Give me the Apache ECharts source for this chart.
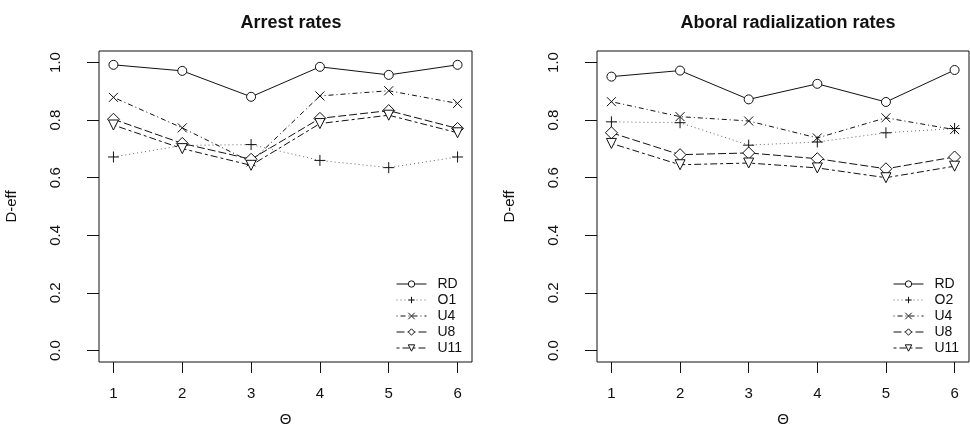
<!DOCTYPE html>
<html>
<head>
<meta charset="utf-8">
<script src="https://cdn.jsdelivr.net/npm/echarts@6/dist/echarts.min.js"></script>
<style>
    html, body { margin: 0; padding: 0; background: #fff; }
    #chart { width: 970px; height: 428px; }
</style>
</head>
<body>
<div id="chart"></div>
<script>
/**
 * D-eff 对比图 (两幅)
 */
var thetas = [1, 2, 3, 4, 5, 6];
var yTicks = [0, 0.2, 0.4, 0.6, 0.8, 1.0];

// Arrest rates
var arrestRD = [0.992, 0.971, 0.881, 0.985, 0.957, 0.992];
var arrestO1 = [0.672, 0.712, 0.715, 0.660, 0.635, 0.672];
var arrestU4 = [0.879, 0.773, 0.655, 0.884, 0.902, 0.858];
var arrestU8 = [0.803, 0.719, 0.664, 0.806, 0.833, 0.771];
var arrestU11 = [0.783, 0.701, 0.643, 0.788, 0.817, 0.756];

// Aboral radialization rates
var aboralRD = [0.951, 0.972, 0.872, 0.926, 0.863, 0.974];
var aboralO2 = [0.794, 0.791, 0.713, 0.724, 0.756, 0.771];
var aboralU4 = [0.864, 0.812, 0.797, 0.738, 0.808, 0.767];
var aboralU8 = [0.756, 0.680, 0.686, 0.666, 0.631, 0.672];
var aboralU11 = [0.719, 0.645, 0.651, 0.634, 0.600, 0.640];

var FONT = '"Liberation Sans", Arial, sans-serif';
var INK = '#111';

var SYM = {
    circle: { symbol: 'circle', size: 9, fill: '#fff' },
    plus: { symbol: 'path://M5,0L5,10M0,5L10,5', size: 11, fill: 'none' },
    cross: { symbol: 'path://M0,0L10,10M10,0L0,10', size: 9, fill: 'none' },
    diamond: { symbol: 'diamond', size: 12, fill: '#fff' },
    down: { symbol: 'path://M0,0L10,0L5,8.7Z', size: 10, fill: '#fff' }
};

var DASH = {
    solid: 'solid',
    dotted: [1, 3],
    dotdash: [1, 3, 5, 3],
    longdash: [8, 3],
    twodash: [3, 3, 7, 3]
};

function pairs(values) {
    return thetas.map(function (t, i) {
        return [t, values[i]];
    });
}

function line(name, values, sym, dash, idx, color) {
    var s = SYM[sym];
    return {
        name: name,
        type: 'line',
        xAxisIndex: idx,
        yAxisIndex: idx,
        data: pairs(values),
        symbol: s.symbol,
        symbolSize: s.size,
        showSymbol: true,
        animation: false,
        lineStyle: { color: color || INK, width: 1, type: DASH[dash] },
        itemStyle: { color: s.fill, borderColor: INK, borderWidth: 1 },
        emphasis: { disabled: true },
        z: 3
    };
}

function xAxis(idx) {
    return {
        type: 'value',
        gridIndex: idx,
        position: 'bottom',
        min: 0.79,
        max: 6.21,
        name: 'Θ',
        nameLocation: 'middle',
        nameGap: 50,
        nameTextStyle: { fontFamily: FONT, fontSize: 15, color: INK },
        axisLine: { show: false, onZero: false },
        splitLine: { show: false },
        axisTick: {
            show: true, inside: false, length: 11,
            customValues: thetas,
            lineStyle: { color: INK, width: 1 }
        },
        axisLabel: {
            customValues: thetas,
            margin: 24,
            fontFamily: FONT, fontSize: 15, color: INK
        }
    };
}

function yAxis(idx) {
    return {
        type: 'value',
        gridIndex: idx,
        min: -0.04,
        max: 1.04,
        name: 'D-eff',
        nameLocation: 'middle',
        nameGap: 80,
        nameRotate: 90,
        nameTextStyle: { fontFamily: FONT, fontSize: 15, color: INK },
        axisLine: { show: false, onZero: false },
        splitLine: { show: false },
        axisTick: {
            show: true, inside: false, length: 12,
            customValues: yTicks,
            lineStyle: { color: INK, width: 1 }
        },
        axisLabel: {
            customValues: yTicks,
            rotate: 90,
            margin: 36,
            fontFamily: FONT, fontSize: 15, color: INK,
            formatter: function (v) { return v.toFixed(1); }
        }
    };
}

function legend(left, names) {
    return {
        orient: 'vertical',
        left: left,
        top: 272,
        itemWidth: 30,
        itemHeight: 8,
        itemGap: 2,
        selectedMode: false,
        data: names,
        lineStyle: { width: 1 },
        itemStyle: { borderWidth: 1 },
        textStyle: { fontFamily: FONT, fontSize: 14, lineHeight: 14, color: INK, padding: [0, 0, 0, 6] }
    };
}

var chart = echarts.init(document.getElementById('chart'));

var option = {
    backgroundColor: '#fff',
    animation: false,
    title: [
        {
            text: 'Arrest rates',
            left: 286, top: 9, textAlign: 'center',
            textStyle: { fontFamily: FONT, fontSize: 18, fontWeight: 'bold', color: INK }
        },
        {
            text: 'Aboral radialization rates',
            left: 783, top: 9, textAlign: 'center',
            textStyle: { fontFamily: FONT, fontSize: 18, fontWeight: 'bold', color: INK }
        }
    ],
    legend: [
        legend(391, ['RD', 'O1', 'U4', 'U8', 'U11']),
        legend(888, ['RD', 'O2', 'U4', 'U8', 'U11'])
    ],
    grid: [
        { left: 99, top: 51, width: 373, height: 311, show: true, borderColor: INK, borderWidth: 1, containLabel: false, outerBoundsMode: 'none' },
        { left: 597, top: 51, width: 372, height: 311, show: true, borderColor: INK, borderWidth: 1, containLabel: false, outerBoundsMode: 'none' }
    ],
    xAxis: [xAxis(0), xAxis(1)],
    yAxis: [yAxis(0), yAxis(1)],
    series: [
        line('RD', arrestRD, 'circle', 'solid', 0),
        line('O1', arrestO1, 'plus', 'dotted', 0, '#666'),
        line('U4', arrestU4, 'cross', 'dotdash', 0),
        line('U8', arrestU8, 'diamond', 'longdash', 0),
        line('U11', arrestU11, 'down', 'twodash', 0),

        line('RD', aboralRD, 'circle', 'solid', 1),
        line('O2', aboralO2, 'plus', 'dotted', 1, '#666'),
        line('U4', aboralU4, 'cross', 'dotdash', 1),
        line('U8', aboralU8, 'diamond', 'longdash', 1),
        line('U11', aboralU11, 'down', 'twodash', 1)
    ]
};

chart.setOption(option);
</script>
</body>
</html>
